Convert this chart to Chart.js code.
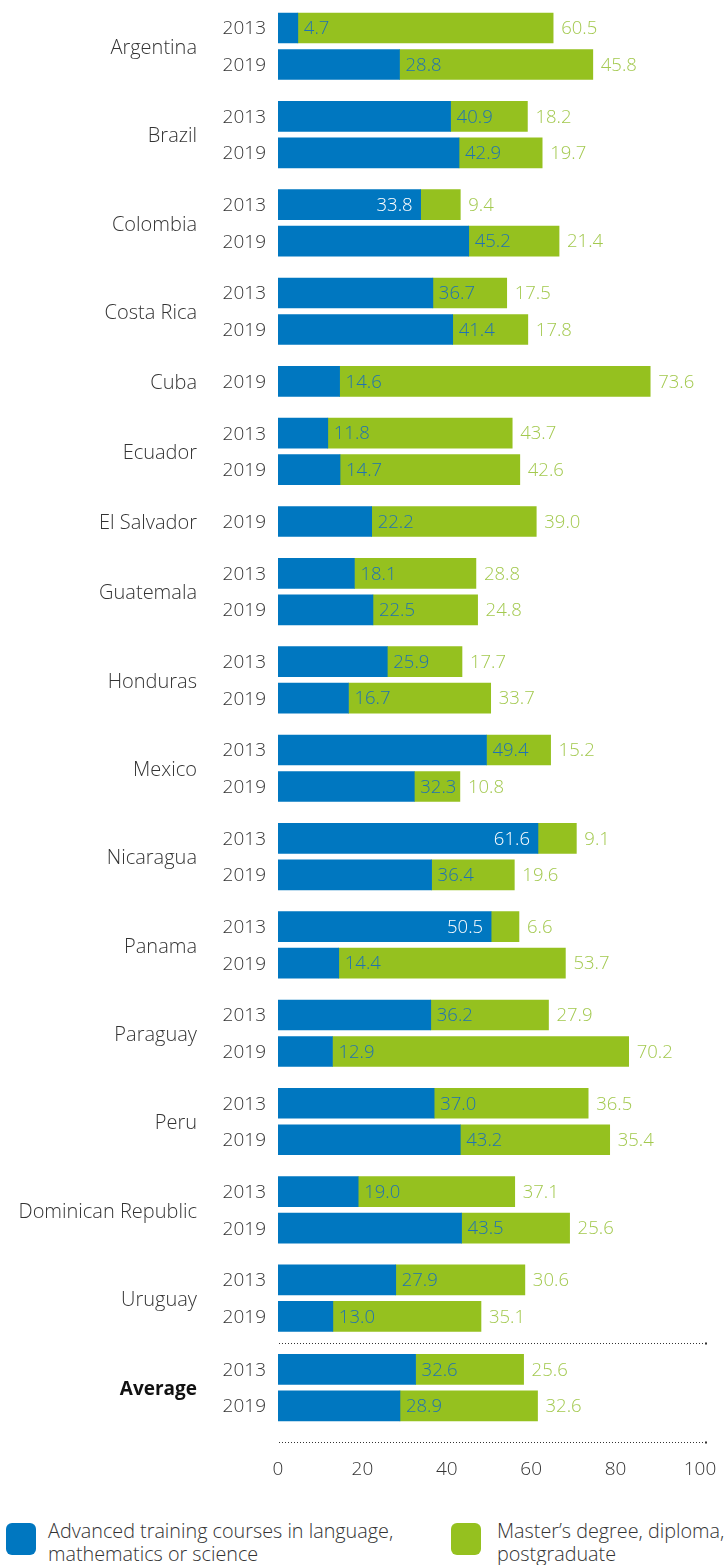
<!DOCTYPE html>
<html><head><meta charset="utf-8">
<script src="https://cdn.jsdelivr.net/npm/chart.js@4.4.1/dist/chart.umd.min.js"></script>
<style>
html,body{margin:0;padding:0;background:#fff;}
#wrap{position:relative;width:726px;height:1565px;overflow:hidden;font-family:'Open Sans',sans-serif;}
#box{position:absolute;left:0;top:0;width:726px;height:1495px;}
.leg{position:absolute;top:1519px;font-size:19.8px;font-weight:300;line-height:23px;color:#333;white-space:nowrap;}
.sw{position:absolute;width:30px;height:32px;border-radius:6px;top:1523px;}
</style></head>
<body>
<div id="wrap">
  <div id="box"><canvas id="c"></canvas></div>
  <div class="sw" id="sw0" style="left:6px;"></div>
  <div class="leg" id="lg0" style="left:48px;"></div>
  <div class="sw" id="sw1" style="left:451px;"></div>
  <div class="leg" id="lg1" style="left:497px;"></div>
</div>
<script>
const countries = ["Argentina","Brazil","Colombia","Costa Rica","Cuba","Ecuador","El Salvador","Guatemala","Honduras","Mexico","Nicaragua","Panama","Paraguay","Peru","Dominican Republic","Uruguay","Average"];
const blue2013  = [4.7, 40.9, 33.8, 36.7, null, 11.8, null, 18.1, 25.9, 49.4, 61.6, 50.5, 36.2, 37.0, 19.0, 27.9, 32.6];
const green2013 = [60.5, 18.2, 9.4, 17.5, null, 43.7, null, 28.8, 17.7, 15.2, 9.1, 6.6, 27.9, 36.5, 37.1, 30.6, 25.6];
const blue2019  = [28.8, 42.9, 45.2, 41.4, 14.6, 14.7, 22.2, 22.5, 16.7, 32.3, 36.4, 14.4, 12.9, 43.2, 43.5, 13.0, 28.9];
const green2019 = [45.8, 19.7, 21.4, 17.8, 73.6, 42.6, 39.0, 24.8, 33.7, 10.8, 19.6, 53.7, 70.2, 35.4, 25.6, 35.1, 32.6];
const yearLabels = ["2013","2019"];
const xTickValues = [0,20,40,60,80,100];
const seriesNames = [["Advanced training courses in language,","mathematics or science"],["Master\u2019s degree, diploma,","postgraduate"]];

const BLUE = '#0077c0', GREEN = '#95c11f';
const BLUE_TXT = '#1f72b4', GREEN_TXT = '#a3c94f', TXT = '#333333';
const FONT = '"Open Sans", sans-serif';
const ROW_PX = 36.5, GAP = 0.42, AVG_GAP = 0.45, FIRST_CENTER = 28;

// build rows
const rows = [];
let pos = 0;
countries.forEach((c, i) => {
  if (i > 0) pos += 1 + (c === 'Average' ? AVG_GAP : GAP);
  let first = true;
  [[blue2013, green2013, yearLabels[0]], [blue2019, green2019, yearLabels[1]]].forEach(([b, g, yr]) => {
    if (b[i] == null) return;
    if (!first) pos += 1;
    rows.push({country: c, ci: i, year: yr, pos: pos, blue: b[i], green: g[i]});
    first = false;
  });
});

document.getElementById('sw0').style.background = BLUE;
document.getElementById('sw1').style.background = GREEN;
document.getElementById('lg0').innerHTML = seriesNames[0].join('<br>');
document.getElementById('lg1').innerHTML = seriesNames[1].join('<br>');

const labelPlugin = {
  id: 'rowLabels',
  afterDatasetsDraw(chart) {
    const ctx = chart.ctx, ys = chart.scales.y, ca = chart.chartArea;
    const mb = chart.getDatasetMeta(0).data, mg = chart.getDatasetMeta(1).data;
    ctx.save();
    ctx.textBaseline = 'middle';
    rows.forEach((r, i) => {
      const y = ys.getPixelForValue(r.pos) + 1;
      const bEnd = mb[i].x, gEnd = mg[i].x;
      ctx.font = '300 18.5px ' + FONT;
      if (r.green < 10) {
        ctx.fillStyle = '#ffffff'; ctx.textAlign = 'right';
        ctx.fillText(r.blue.toFixed(1), bEnd - 8, y);
      } else {
        ctx.fillStyle = BLUE_TXT; ctx.textAlign = 'left';
        ctx.fillText(r.blue.toFixed(1), bEnd + 6, y);
      }
      ctx.fillStyle = GREEN_TXT; ctx.textAlign = 'left';
      ctx.fillText(r.green.toFixed(1), gEnd + 8, y);
      ctx.font = '300 19px ' + FONT;
      ctx.fillStyle = TXT; ctx.textAlign = 'right';
      ctx.fillText(r.year, ca.left - 12, y);
    });
    countries.forEach((c, i) => {
      const rs = rows.filter(r => r.ci === i);
      const y = rs.reduce((s, r) => s + ys.getPixelForValue(r.pos), 0) / rs.length + 2;
      ctx.font = (c === 'Average' ? 'bold 19px ' : '300 20px ') + FONT;
      ctx.fillStyle = c === 'Average' ? '#111' : TXT;
      ctx.textAlign = 'right';
      ctx.fillText(c, ca.left - 81, y);
    });
    // dotted separators around the average
    const avgRows = rows.filter(r => r.country === 'Average');
    const prev = rows[rows.indexOf(avgRows[0]) - 1];
    const y1 = Math.round((ys.getPixelForValue(prev.pos) + ys.getPixelForValue(avgRows[0].pos)) / 2) + 0.5;
    const y2 = Math.round(ys.getPixelForValue(avgRows[avgRows.length - 1].pos) + ROW_PX) + 0.5;
    ctx.strokeStyle = '#333'; ctx.lineWidth = 1.2; ctx.setLineDash([1, 2]);
    [y1, y2].forEach(yy => {
      ctx.beginPath(); ctx.moveTo(ca.left + 1, yy); ctx.lineTo(ca.right + 3, yy); ctx.stroke();
      ctx.setLineDash([]);
      ctx.fillStyle = '#333'; ctx.fillRect(ca.right + 5, yy - 1, 2, 2);
      ctx.setLineDash([1, 2]);
    });
    ctx.restore();
  }
};

const chart = new Chart(document.getElementById('c'), {
  type: 'bar',
  data: {
    datasets: [
      {label: seriesNames[0].join(' '), data: rows.map(r => ({x: r.blue, y: r.pos})), backgroundColor: BLUE, barThickness: 30},
      {label: seriesNames[1].join(' '), data: rows.map(r => ({x: r.green, y: r.pos})), backgroundColor: GREEN, barThickness: 30}
    ]
  },
  options: {
    indexAxis: 'y',
    responsive: true,
    maintainAspectRatio: false,
    animation: false,
    layout: {padding: {left: 278, right: 26, top: 0, bottom: 10}},
    plugins: {legend: {display: false}, tooltip: {enabled: false}},
    scales: {
      x: {
        type: 'linear', stacked: true, min: 0, max: 100,
        afterBuildTicks: s => { s.ticks = xTickValues.map(v => ({value: v})); },
        grid: {display: false, drawTicks: false}, border: {display: false},
        ticks: {color: TXT, font: {family: FONT, size: 19, weight: 300}, padding: 4}
      },
      y: {
        type: 'linear', stacked: true, reverse: true, display: false, offset: false,
        grid: {offset: false}, min: 0, max: 40
      }
    }
  },
  plugins: [labelPlugin]
});
const ca = chart.chartArea;
const H = ca.bottom - ca.top;
const mn = -(FIRST_CENTER - ca.top) / ROW_PX;
chart.options.scales.y.min = mn;
chart.options.scales.y.max = mn + H / ROW_PX;
chart.update('none');
</script>
</body></html>
